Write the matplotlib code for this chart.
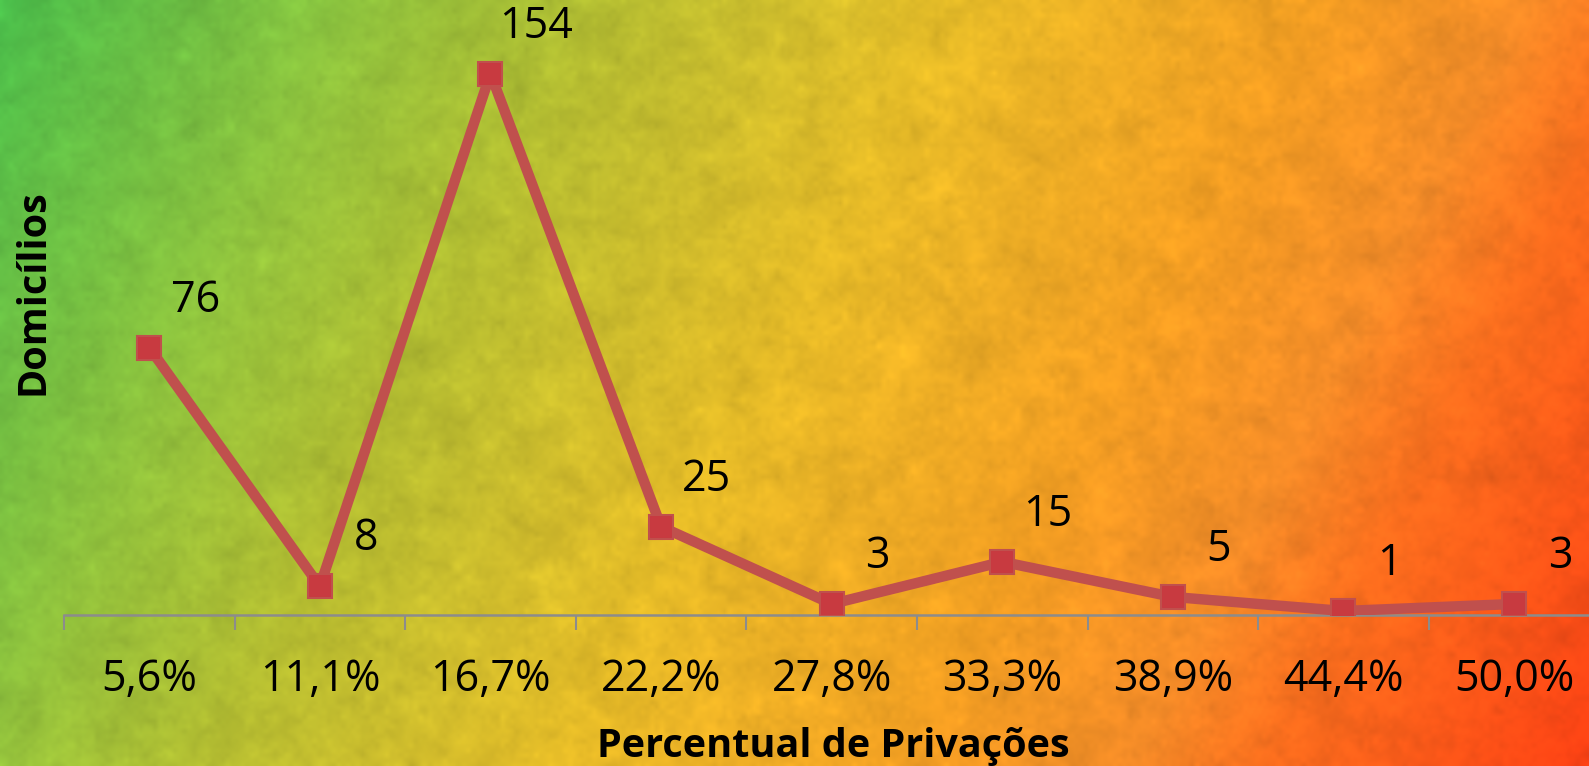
import numpy as np
import matplotlib
matplotlib.use("Agg")
import matplotlib.pyplot as plt
from matplotlib.colors import LinearSegmentedColormap

# data
categorias = ["5,6%", "11,1%", "16,7%", "22,2%", "27,8%", "33,3%", "38,9%", "44,4%", "50,0%"]
domicilios = [76, 8, 154, 25, 3, 15, 5, 1, 3]

W, H = 1589, 766
fig = plt.figure(figsize=(W / 100, H / 100), dpi=100)

# textured background, green -> yellow -> orange -> red
stops = [(0.00, (75, 190, 75)), (0.20, (150, 195, 60)), (0.30, (180, 190, 50)),
         (0.48, (230, 188, 40)), (0.66, (245, 160, 35)), (0.77, (245, 140, 40)),
         (0.84, (250, 110, 30)), (1.00, (250, 65, 20))]
cmap = LinearSegmentedColormap.from_list("bg", [(p, tuple(c / 255 for c in rgb)) for p, rgb in stops])
yy, xx = np.mgrid[0:H:2, 0:W:2]
t = np.clip(0.8 * xx / W + 0.2 * yy / H, 0, 1)
rgb = cmap(t)[..., :3]

rng = np.random.default_rng(3)
def smooth_noise(shape, cells):
    small = rng.standard_normal((cells[0], cells[1]))
    # bilinear upsample
    ys = np.linspace(0, cells[0] - 1, shape[0])
    xs = np.linspace(0, cells[1] - 1, shape[1])
    y0 = np.floor(ys).astype(int).clip(0, cells[0] - 2)
    x0 = np.floor(xs).astype(int).clip(0, cells[1] - 2)
    fy = (ys - y0)[:, None]
    fx = (xs - x0)[None, :]
    a = small[y0][:, x0]
    b = small[y0][:, x0 + 1]
    c = small[y0 + 1][:, x0]
    d = small[y0 + 1][:, x0 + 1]
    return (a * (1 - fx) + b * fx) * (1 - fy) + (c * (1 - fx) + d * fx) * fy

noise = (0.45 * smooth_noise(t.shape, (25, 50)) + 0.4 * smooth_noise(t.shape, (70, 140))
         + 0.3 * smooth_noise(t.shape, (160, 330)))
shade = 1 + 0.05 * noise
rgb = np.clip(rgb * shade[..., None], 0, 1)

bg = fig.add_axes([0, 0, 1, 1])
bg.imshow(rgb, extent=[0, 1, 0, 1], aspect="auto", interpolation="bilinear")
bg.set_axis_off()

# main chart
ax = fig.add_axes([64 / W, 151.5 / H, 9 * 170.6 / W, 562 / H])
ax.patch.set_alpha(0)
x = np.arange(len(categorias))
ax.plot(x, domicilios, color="#C0504D", lw=7.5, solid_capstyle="round", zorder=3)
ax.plot(x, domicilios, ls="none", marker="s", ms=17.5, mfc="#C83A40", mec="#C0504D", mew=1.5, zorder=4)

for xi, v in zip(x, domicilios):
    ax.annotate(str(v), (xi, v), xytext=(33, 34), textcoords="offset points",
                ha="center", va="center", fontsize=31, family="Open Sans", color="black")

ax.set_xlim(-0.5, len(categorias) - 0.5)
ax.set_ylim(0, 160)
ax.set_xticks(x)
ax.set_xticklabels(categorias, fontsize=31, family="Open Sans")
ax.set_xticks(np.arange(len(categorias) + 1) - 0.5, minor=True)
ax.tick_params(axis="x", which="major", length=0, pad=31)
ax.tick_params(axis="x", which="minor", length=11, width=1.5, color="#8C8C8C")
ax.set_yticks([])
for s in ["top", "right", "left"]:
    ax.spines[s].set_visible(False)
ax.spines["bottom"].set_color("#8C8C8C")
ax.spines["bottom"].set_linewidth(1.8)

fig.text(833 / W, 1 - 747 / H, "Percentual de Privações", ha="center", va="center",
         fontsize=28.5, fontweight="bold", family="Open Sans")
fig.text(33 / W, 1 - 292 / H, "Domicílios", ha="center", va="center", rotation=90,
         fontsize=28.5, fontweight="bold", family="Open Sans")

fig.savefig("out.png", dpi=100)
